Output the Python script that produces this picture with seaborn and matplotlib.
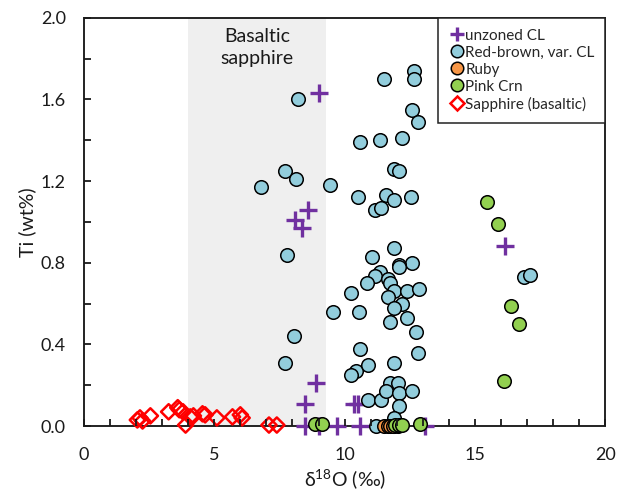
import numpy as np
import pandas as pd
import matplotlib
matplotlib.use("Agg")
import matplotlib.pyplot as plt
import seaborn as sns
from matplotlib.ticker import MultipleLocator, FormatStrFormatter
from matplotlib.lines import Line2D
import matplotlib.lines as mlines

# ---- data ----
unzoned_x = [9.0, 8.1, 8.35, 8.6, 8.9, 8.5, 10.35, 10.5, 16.15, 8.5, 9.0, 9.7, 10.6, 13.1]
unzoned_y = [1.63, 1.01, 0.97, 1.06, 0.21, 0.11, 0.11, 0.11, 0.88, 0.0, 0.0, 0.0, 0.0, 0.0]

redbrown_x = [12.65, 12.65, 11.5, 8.2, 12.6, 12.8, 10.6, 11.35, 12.2, 7.7, 8.15, 9.45,
              11.9, 12.1, 10.5, 11.6, 11.9, 12.55, 11.15, 11.4, 6.8,
              7.8, 11.9, 11.05, 12.6, 12.1, 12.1, 11.35, 11.15, 11.65, 11.75, 10.85,
              11.9, 12.4, 12.85, 10.25, 11.65, 12.2, 11.9, 9.55, 10.55, 11.75, 12.4,
              12.75, 8.05, 10.6, 12.8, 7.7, 10.45, 10.9, 11.9, 10.25,
              10.9, 11.4, 11.75, 12.05, 11.6, 12.1, 12.6, 12.1, 11.9, 11.2, 11.9, 12.05,
              16.9, 17.1]
redbrown_y = [1.74, 1.70, 1.70, 1.60, 1.55, 1.49, 1.39, 1.40, 1.41, 1.25, 1.21, 1.18,
              1.26, 1.25, 1.12, 1.13, 1.11, 1.12, 1.06, 1.07, 1.17,
              0.84, 0.87, 0.83, 0.80, 0.79, 0.78, 0.755, 0.735, 0.72, 0.70, 0.70,
              0.66, 0.66, 0.67, 0.65, 0.63, 0.60, 0.58, 0.56, 0.56, 0.51, 0.53,
              0.46, 0.44, 0.38, 0.36, 0.31, 0.27, 0.30, 0.31, 0.25,
              0.13, 0.13, 0.21, 0.21, 0.17, 0.16, 0.17, 0.10, 0.04, 0.0, 0.0, 0.0,
              0.73, 0.74]

ruby_x = [11.5, 11.65, 11.75, 11.85]
ruby_y = [0.0, 0.0, 0.0, 0.0]

pink_x = [15.45, 15.9, 16.4, 16.7, 16.1, 8.85, 9.15, 11.95, 12.1, 12.2, 12.9]
pink_y = [1.10, 0.99, 0.59, 0.50, 0.22, 0.01, 0.01, 0.005, 0.005, 0.005, 0.01]

sapph_x = [2.05, 2.15, 2.25, 2.55, 3.25, 3.6, 3.66, 3.8, 3.9, 4.08, 4.2, 4.55, 4.65,
           5.1, 5.7, 6.0, 6.07, 7.1, 7.4]
sapph_y = [0.03, 0.04, 0.025, 0.05, 0.07, 0.09, 0.08, 0.07, 0.005, 0.045, 0.05, 0.06,
           0.055, 0.04, 0.045, 0.055, 0.04, 0.005, 0.005]

labels = ["unzoned CL", "Red-brown, var. CL", "Ruby", "Pink Crn", "Sapphire (basaltic)"]

# ---- style ----
sns.set_style("ticks")
plt.rcParams['font.family'] = ['Lato', 'DejaVu Sans']
plt.rcParams['mathtext.fontset'] = 'custom'
plt.rcParams['mathtext.rm'] = 'Lato'
plt.rcParams['mathtext.it'] = 'Lato:italic'
plt.rcParams['axes.axisbelow'] = False
plt.rcParams['xtick.major.pad'] = 15
plt.rcParams['ytick.major.pad'] = 13

fig = plt.figure(figsize=(6.17, 4.96), dpi=100)
ax = fig.add_axes([0.136, 0.141, 0.845, 0.823])
ax.set_axisbelow(False)

ax.axvspan(4.0, 9.3, color='#efefef', zorder=0, lw=0)
ax.text(6.65, 1.855, "Basaltic\nsapphire", ha='center', va='center', fontsize=14,
        linespacing=1.3, color='#1a1a1a')

purple = '#7030A0'
blue = '#92CDDC'
orange = '#F79646'
green = '#92D050'
red = '#FF0000'

sns.scatterplot(x=unzoned_x, y=unzoned_y, ax=ax, marker='+', color=purple, s=170,
                linewidth=2.4, clip_on=False, zorder=3)
sns.scatterplot(x=redbrown_x, y=redbrown_y, ax=ax, marker='o', color=blue, s=95,
                edgecolor='black', linewidth=1.1, clip_on=False, zorder=4)
sns.scatterplot(x=ruby_x, y=ruby_y, ax=ax, marker='o', color=orange, s=95,
                edgecolor='black', linewidth=1.1, clip_on=False, zorder=5)
sns.scatterplot(x=pink_x, y=pink_y, ax=ax, marker='o', color=green, s=95,
                edgecolor='black', linewidth=1.1, clip_on=False, zorder=6)
sns.scatterplot(x=sapph_x, y=sapph_y, ax=ax, marker='D', s=60, facecolor='none',
                edgecolor=red, linewidth=1.8, clip_on=False, zorder=3)

ax.set_xlim(0, 20)
ax.set_ylim(0, 2.0)
ax.xaxis.set_major_locator(MultipleLocator(5))
ax.xaxis.set_minor_locator(MultipleLocator(1))
ax.yaxis.set_major_locator(MultipleLocator(0.4))
ax.yaxis.set_minor_locator(MultipleLocator(0.2))
ax.yaxis.set_major_formatter(FormatStrFormatter('%.1f'))
for sp in ax.spines.values():
    sp.set_visible(True)
    sp.set_linewidth(1.4)
    sp.set_color('#222222')

ax.set_xlabel(r"δ$^{18}$O (‰)", fontsize=14, labelpad=3, color='#1a1a1a')
ax.set_ylabel("Ti (wt%)", fontsize=14, labelpad=3, color='#1a1a1a')

handles = [
    Line2D([], [], marker='+', color=purple, ls='none', markersize=10, mew=2.4),
    Line2D([], [], marker='o', mfc=blue, mec='black', ls='none', markersize=9, mew=1.1),
    Line2D([], [], marker='o', mfc=orange, mec='black', ls='none', markersize=9, mew=1.1),
    Line2D([], [], marker='o', mfc=green, mec='black', ls='none', markersize=9, mew=1.1),
    Line2D([], [], marker='D', mfc='none', mec=red, ls='none', markersize=7, mew=1.8),
]
leg = ax.legend(handles, labels, loc='upper right', borderaxespad=0.0, fontsize=11,
                frameon=True, fancybox=False, framealpha=1.0, edgecolor='#222222',
                handletextpad=0.05, handlelength=1.0, labelspacing=0.2, borderpad=0.7)
leg.get_frame().set_linewidth(1.1)
leg.set_zorder(10)

ax.tick_params(which='both', direction='in', length=5, width=1.3, color='#1a1a1a',
               bottom=True, left=True, top=False, right=False)
ax.tick_params(labelsize=13, labelcolor='#1a1a1a')
ax.xaxis.set_zorder(7)
ax.yaxis.set_zorder(7)

# make sure every x tick mark is really drawn (inward, above the data)
fig.canvas.draw()
for t in ax.xaxis.get_major_ticks() + ax.xaxis.get_minor_ticks():
    t.tick1line.set_visible(True)
    t.tick1line.set_marker(mlines.TICKUP)
    t.tick1line.set_markersize(5)
    t.tick1line.set_markeredgewidth(1.3)
    t.tick1line.set_markeredgecolor('#1a1a1a')
    t.tick1line.set_color('#1a1a1a')
    t.tick1line.set_alpha(1.0)
    t.tick1line.set_clip_on(False)
    t.tick1line.set_zorder(8)

fig.savefig("out.png", dpi=100)
